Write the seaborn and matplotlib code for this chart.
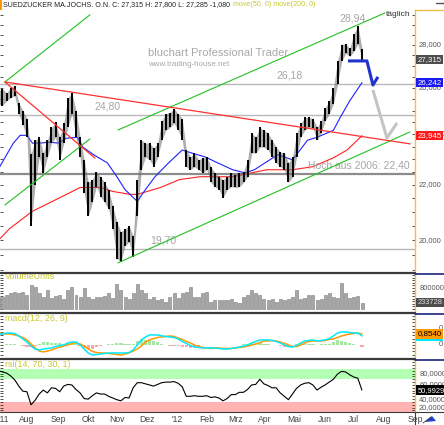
import numpy as np
import pandas as pd
import matplotlib
matplotlib.use("Agg")
import matplotlib.pyplot as plt
import matplotlib.transforms as mtransforms
from matplotlib.lines import Line2D
from matplotlib.patches import Rectangle, Polygon
from matplotlib.ticker import FixedLocator, NullLocator
import seaborn as sns

# ---- data -------------------------------------------------------------
start_day = "2011-07-01"
bar_day = np.arange(0, 268, 3)   # business-day index of each sampled bar

bar_high = [25.87, 25.96, 25.78, 26.00, 26.10, 25.34, 25.00, 24.66, 23.20, 23.76,
            23.88, 23.24, 23.76, 24.29, 24.50, 23.88, 24.46, 25.56, 25.78, 25.00,
            23.88, 22.97, 22.09, 22.20, 22.50, 22.31, 22.09, 21.82, 21.20, 20.64,
            20.29, 20.39, 20.50, 20.14, 22.20, 23.76, 23.64, 23.64, 23.44, 23.64,
            24.58, 24.87, 24.92, 25.09, 24.87, 24.66, 23.36, 23.08, 23.24, 22.97,
            23.05, 23.08, 22.70, 22.46, 22.31, 22.20, 22.31, 22.46, 22.39, 22.46,
            22.50, 22.97, 24.05, 23.88, 24.29, 24.17, 24.05, 23.76, 23.48, 23.28,
            23.24, 22.85, 23.08, 24.05, 24.46, 24.71, 24.71, 24.66, 24.29, 24.58,
            25.13, 25.43, 26.00, 27.22, 28.02, 28.06, 27.83, 28.55, 28.94, 27.80]
bar_low = [25.30, 25.22, 25.43, 25.56, 25.65, 24.87, 24.38, 23.88, 20.50, 22.01,
           23.08, 22.46, 23.08, 23.64, 23.88, 22.97, 23.64, 24.29, 24.87, 23.88,
           23.08, 21.71, 20.84, 21.34, 21.93, 21.56, 21.34, 21.09, 20.39, 19.37,
           19.27, 19.81, 19.94, 19.44, 20.84, 22.58, 23.08, 22.97, 22.70, 23.08,
           23.76, 24.17, 24.29, 24.46, 24.17, 23.76, 22.70, 22.58, 22.70, 22.58,
           22.46, 22.58, 22.09, 21.93, 21.82, 21.52, 21.82, 21.93, 21.90, 21.93,
           22.09, 22.31, 23.24, 23.24, 23.48, 23.48, 23.36, 23.08, 22.85, 22.70,
           22.58, 22.09, 22.31, 23.08, 23.88, 24.17, 24.29, 24.25, 23.76, 24.05,
           24.58, 24.87, 25.30, 26.17, 27.22, 27.60, 27.45, 27.69, 28.06, 27.285]

ma50_day = [1, 11, 16, 21, 25, 30, 38, 44, 50, 58, 62, 70, 80, 87, 93, 102, 108, 115,
            125, 135, 142, 152, 161, 172, 181, 188, 205, 216, 227, 234, 246, 251, 258, 267]
ma50_val = [22.70, 23.64, 23.96, 23.96, 23.64, 23.64, 23.68, 23.64, 23.84, 23.88, 23.48,
            23.17, 22.85, 22.31, 21.82, 21.38, 21.82, 22.31, 22.85, 23.36, 23.24, 23.08,
            22.85, 22.58, 22.46, 22.58, 23.17, 22.97, 23.76, 23.88, 24.17, 24.71, 25.43, 26.242]

ma200_day = [1, 8, 25, 38, 50, 60, 75, 84, 97, 102, 119, 133, 148, 172, 197, 216, 231, 246, 256, 267]
ma200_val = [20.04, 20.39, 21.02, 21.34, 21.64, 21.90, 21.90, 21.75, 21.64, 21.64, 21.90,
             22.20, 22.31, 22.31, 22.58, 22.58, 22.70, 23.05, 23.36, 23.945]

volume = [470e3, 470e3, 530e3, 600e3, 660e3, 600e3, 660e3, 550e3, 900e3, 850e3,
          600e3, 470e3, 720e3, 420e3, 500e3, 530e3, 400e3, 720e3, 850e3, 530e3,
          450e3, 800e3, 470e3, 400e3, 440e3, 470e3, 500e3, 600e3, 420e3, 950e3,
          720e3, 450e3, 400e3, 600e3, 950e3, 720e3, 600e3, 400e3, 470e3, 330e3,
          400e3, 250e3, 470e3, 600e3, 420e3, 600e3, 660e3, 850e3, 470e3, 470e3,
          600e3, 660e3, 250e3, 350e3, 340e3, 330e3, 340e3, 400e3, 280e3, 220e3,
          470e3, 530e3, 720e3, 600e3, 530e3, 400e3, 340e3, 400e3, 280e3, 400e3,
          340e3, 400e3, 470e3, 720e3, 400e3, 420e3, 530e3, 550e3, 340e3, 400e3,
          550e3, 600e3, 470e3, 420e3, 980e3, 600e3, 420e3, 470e3, 500e3, 233728]

macd = [0.85, 0.85, 0.93, 0.93, 0.89, 0.70, 0.47, 0.23, -0.08, -0.31,
        -0.39, -0.31, -0.27, -0.23, -0.12, -0.04, 0.00, 0.16, 0.23, 0.23,
        0.00, -0.31, -0.62, -0.78, -0.74, -0.70, -0.66, -0.62, -0.62, -0.62,
        -0.62, -0.62, -0.58, -0.39, 0.00, 0.39, 0.62, 0.78, 0.78, 0.78,
        0.70, 0.66, 0.62, 0.58, 0.47, 0.27, 0.12, -0.04, -0.16, -0.19,
        -0.23, -0.23, -0.23, -0.23, -0.27, -0.31, -0.31, -0.27, -0.23, -0.16,
        -0.08, 0.00, 0.16, 0.27, 0.39, 0.39, 0.39, 0.35, 0.27, 0.16,
        0.00, -0.12, -0.16, -0.04, 0.16, 0.31, 0.35, 0.39, 0.31, 0.35,
        0.39, 0.50, 0.70, 0.93, 1.01, 1.01, 0.97, 0.93, 0.93, 0.70]
signal = [0.93, 0.89, 0.85, 0.85, 0.78, 0.70, 0.58, 0.39, 0.08, -0.23,
          -0.47, -0.54, -0.47, -0.39, -0.27, -0.16, -0.08, 0.00, 0.12, 0.16,
          0.08, -0.08, -0.31, -0.50, -0.58, -0.62, -0.62, -0.66, -0.70, -0.74,
          -0.78, -0.70, -0.62, -0.47, -0.31, -0.08, 0.23, 0.39, 0.50, 0.58,
          0.62, 0.66, 0.70, 0.66, 0.54, 0.43, 0.27, 0.16, 0.00, -0.12,
          -0.19, -0.23, -0.23, -0.23, -0.23, -0.27, -0.27, -0.27, -0.23, -0.19,
          -0.16, -0.08, 0.00, 0.08, 0.19, 0.31, 0.31, 0.35, 0.31, 0.23,
          0.12, 0.00, -0.12, -0.12, 0.00, 0.16, 0.27, 0.31, 0.31, 0.31,
          0.35, 0.43, 0.47, 0.58, 0.70, 0.78, 0.85, 0.89, 0.93, 0.854]

rsi = [85, 83, 81, 76, 69, 58, 49, 48, 25, 33,
       44, 51, 46, 55, 54, 48, 58, 61, 60, 52,
       46, 36, 35, 41, 46, 44, 44, 40, 37, 34,
       32, 38, 37, 55, 64, 64, 62, 60, 58, 61,
       64, 65, 65, 66, 63, 57, 40, 40, 41, 40,
       40, 41, 38, 39, 37, 32, 36, 43, 43, 47,
       47, 52, 60, 61, 70, 62, 59, 55, 55, 46,
       40, 34, 44, 54, 60, 63, 64, 60, 51, 56,
       60, 65, 70, 79, 84, 83, 78, 74, 72, 50.99]

levels = [26.18, 24.80, 22.40, 19.70]
level_labels = ["26,18", "24,80", "Hoch aus 2006: 22,40", "19,70"]

green_lines = [([4.8, 67.2], [26.27, 29.49]),
               ([4.8, 67.2], [21.25, 23.81]),
               ([87.8, 283.8], [24.18, 29.59]),
               ([87.8, 302.2], [19.23, 24.10])]
red_lines = [([4.8, 302.2], [26.27, 23.61]),
             ([4.8, 70.9], [26.27, 23.04])]
blue_path_day = [256.7, 270.6, 275.0, 278.7]
blue_path_val = [27.24, 27.24, 26.13, 26.50]
gray_path_day = [275.0, 285.3, 292.7]
gray_path_val = [25.91, 23.85, 24.48]

month_starts = ["2011-07-01", "2011-08-01", "2011-09-01", "2011-10-01", "2011-11-01",
                "2011-12-01", "2012-01-01", "2012-02-01", "2012-03-01", "2012-04-01",
                "2012-05-01", "2012-06-01", "2012-07-01", "2012-08-01", "2012-09-01"]
month_labels = ["'11", "Aug", "Sep", "Okt", "Nov", "Dez", "'12", "Feb", "Mrz",
                "Apr", "Mai", "Jun", "Jul", "Aug", "Sep"]

# ---- style ------------------------------------------------------------
sns.set_style("white")
plt.rcParams["font.family"] = ["Liberation Sans", "DejaVu Sans"]

W, H = 444, 425
fig = plt.figure(figsize=(W / 100, H / 100), dpi=100)
fig.patch.set_facecolor("white")

def fx(px):
    return px / W

def fy(px):
    return 1 - px / H

AXR = 415
def panel(top, bottom):
    return fig.add_axes([0, fy(bottom), fx(AXR), (bottom - top) / H])

ax = panel(10, 272)
ax_vol = panel(273, 312)
ax_macd = panel(313, 358)
ax_rsi = panel(359, 412)

cal = pd.bdate_range(start_day, "2012-10-31")
month_pos = [float(cal.searchsorted(pd.Timestamp(m))) for m in month_starts]
month_pos[0] = 4.0
XMIN, XMAX = 1.2, 305.9

AXIS_YEL = "#f0c040"
LAB_YEL = "#c8c828"
RFS = 5.4
for a in (ax, ax_vol, ax_macd, ax_rsi):
    a.set_xlim(XMIN, XMAX)
    for s in ("top", "bottom", "left"):
        a.spines[s].set_visible(False)
    a.spines["right"].set_color(AXIS_YEL)
    a.spines["right"].set_linewidth(1.0)
    a.set_facecolor("white")
    a.tick_params(axis="y", which="both", left=True, right=True, direction="in",
                  length=2, width=0.6, labelleft=False, labelright=False, color="#333333")
    a.set_xticks([])

def ylab(a):
    return mtransforms.blended_transform_factory(a.transAxes, a.transData)

# ---- main price panel -------------------------------------------------
ax.set_yscale("log")
ax.set_ylim(18.93, 29.74)
ax.yaxis.set_major_locator(FixedLocator(np.arange(19.0, 30.0, 0.5)))
ax.yaxis.set_minor_locator(NullLocator())
ax.yaxis.set_major_formatter(plt.NullFormatter())

for lv in levels:
    if lv == 22.40:
        ax.axhline(lv, color="#8c8c8c", lw=1.6, zorder=1)
    else:
        ax.axhline(lv, color="#b8b8b8", lw=1.0, zorder=1)

sns.lineplot(x=ma200_day, y=ma200_val, ax=ax, color="#ff2020", lw=0.8, zorder=2)
sns.lineplot(x=ma50_day, y=ma50_val, ax=ax, color="#2020ff", lw=0.8, zorder=2)

ax.fill_between(bar_day, bar_low, bar_high, color="#6a6a6a", alpha=0.55, lw=0, zorder=3)
ax.vlines(bar_day, bar_low, bar_high, color="black", lw=1.4, zorder=3)

for xs, ys in green_lines:
    ax.plot(xs, ys, color="#22c022", lw=0.8, zorder=4)
for xs, ys in red_lines:
    ax.plot(xs, ys, color="#ff3030", lw=0.9, zorder=4)
ax.plot(gray_path_day, gray_path_val, color="#c4c4c4", lw=2.2, zorder=5,
        solid_capstyle="butt")
ax.plot(blue_path_day, blue_path_val, color="#2233cc", lw=2.2, zorder=5,
        solid_capstyle="butt")

lab_col = "#a6a6a6"
ax.text(214, 26.18 * 1.006, level_labels[0], color=lab_col, fontsize=7.5, ha="center", va="bottom")
ax.text(80, 24.80 * 1.006, level_labels[1], color=lab_col, fontsize=7.5, ha="center", va="bottom")
ax.text(302, 22.40 * 1.006, level_labels[2], color=lab_col, fontsize=7.5, ha="right", va="bottom")
ax.text(121, 19.70 * 1.006, level_labels[3], color=lab_col, fontsize=7.5, ha="center", va="bottom")
ax.text(260, 28.94 * 1.004, "28,94", color=lab_col, fontsize=7.5, ha="center", va="bottom")
ax.text(302.5, 29.5, "täglich", color="#333333", fontsize=6, ha="right", va="center")

tr = ylab(ax)
for v, s in [(28.0, "28,000"), (26.0, "26,000"), (22.0, "22,000"), (20.0, "20,000")]:
    ax.text(1.01, v, s, transform=tr, fontsize=RFS, color="#555555", va="center", ha="left", clip_on=False)
ax.text(1.062, 24.0, "0", transform=tr, fontsize=RFS, color="#555555", va="center", ha="left", clip_on=False)
for v, s, bg in [(27.315, "27,315", "#4d4d4d"), (26.242, "26,242", "#1a1aee"), (23.945, "23,945", "#ff1a1a")]:
    ax.text(1.006, v, s, transform=tr, fontsize=RFS + 0.3, color="white", va="center", ha="left",
            clip_on=False, zorder=6, bbox=dict(boxstyle="square,pad=0.15", fc=bg, ec="none"))

# ---- volume panel -----------------------------------------------------
ax_vol.set_ylim(-114000, 1372000)
ax_vol.bar(bar_day, volume, width=2.2, color="#a6a6a6", edgecolor="#7c7c7c", lw=0.4)
ax_vol.yaxis.set_major_locator(FixedLocator(np.arange(0, 1300001, 100000)))
ax_vol.text(0.012, 0.9, "VolumeUnits", transform=ax_vol.transAxes, fontsize=6.4,
            color=LAB_YEL, va="center", zorder=10)
tr = ylab(ax_vol)
ax_vol.text(1.01, 800000, "800000", transform=tr, fontsize=RFS, color="#555555", va="center", clip_on=False)
ax_vol.text(1.006, 233728, "233728", transform=tr, fontsize=RFS, color="#dddddd", va="center",
            clip_on=False, bbox=dict(boxstyle="square,pad=0.15", fc="#4d4d4d", ec="none"))

# ---- macd panel -------------------------------------------------------
ax_macd.set_ylim(-1.01, 2.48)
ax_macd.yaxis.set_major_locator(FixedLocator(np.arange(-1.0, 2.5, 0.25)))
hist = np.array(macd) - np.array(signal)
hcol = np.where(hist >= 0, "#8fe08f", "#ff8f8f")
ax_macd.bar(bar_day, hist, width=2.4, color=hcol, alpha=0.8, lw=0)
sns.lineplot(x=bar_day, y=signal, ax=ax_macd, color="#ff9a00", lw=1.1)
sns.lineplot(x=bar_day, y=macd, ax=ax_macd, color="#00e8ff", lw=1.1)
ax_macd.set_xlim(XMIN, XMAX)
ax_macd.text(0.012, 0.87, "macd(12, 26, 9)", transform=ax_macd.transAxes, fontsize=6.4,
             color=LAB_YEL, va="center", zorder=10)
tr = ylab(ax_macd)
ax_macd.text(1.058, 1.3, "0", transform=tr, fontsize=RFS, color="#555555", va="center", clip_on=False)
ax_macd.text(1.058, 0.0, "0", transform=tr, fontsize=RFS, color="#555555", va="center", clip_on=False)
ax_macd.text(1.006, 0.854, "0,8540", transform=tr, fontsize=RFS + 0.3, color="black", va="center",
             clip_on=False, bbox=dict(boxstyle="square,pad=0.15", fc="#ff9a00", ec="none"))
fig.add_artist(Rectangle((fx(416), fy(341)), fx(27), 2 / H, color="#00e8ff", lw=0))

# ---- rsi panel --------------------------------------------------------
ax_rsi.yaxis.set_major_locator(FixedLocator(np.arange(15, 105, 5)))
ax_rsi.axhspan(71, 88, color="#b3ffb3", lw=0, zorder=0)
ax_rsi.axhspan(0, 30, color="#ffb3b3", lw=0, zorder=0)
sns.lineplot(x=bar_day, y=rsi, ax=ax_rsi, color="black", lw=0.8)
ax_rsi.set_xlim(XMIN, XMAX)
ax_rsi.set_ylim(12.3, 105.8)
ax_rsi.text(0.012, 0.89, "rsi(14, 70, 30, 1)", transform=ax_rsi.transAxes, fontsize=6.4,
            color=LAB_YEL, va="center", zorder=10)
tr = ylab(ax_rsi)
for v, s in [(80, "80,0000"), (60, "60,0000"), (20, "20,0000")]:
    ax_rsi.text(1.01, v, s, transform=tr, fontsize=RFS, color="#555555", va="center", clip_on=False)
ax_rsi.text(1.006, 50.99, "50,9929", transform=tr, fontsize=RFS, color="white", va="center",
            clip_on=False, bbox=dict(boxstyle="square,pad=0.15", fc="black", ec="none"))
ax_rsi.text(1.01, 40, "40,0000", transform=tr, fontsize=RFS, color="#555555", va="top",
            clip_on=False, zorder=0)
ax_rsi.set_xticks(month_pos)
ax_rsi.set_xticklabels(month_labels)
ax_rsi.tick_params(axis="x", length=0, pad=2.5, labelsize=6.2, colors="#444444")

# ---- frame lines and header ------------------------------------------
def hline(y, x0, x1, color, lw):
    fig.add_artist(Line2D([fx(x0), fx(x1)], [fy(y), fy(y)], color=color, lw=lw))

for y in (272.5, 312.5, 358.5):
    hline(y, 0, AXR, "#3a3a3a", 1.6)
    hline(y + 1.5, AXR, W, "#1a237e", 1.2)
hline(412, 0, W, "#3a3a3a", 0.8)
hline(10, AXR, W, AXIS_YEL, 1.0)
fig.add_artist(Line2D([fx(AXR), fx(AXR)], [fy(412), fy(425)], color="#3a3a3a", lw=0.8))
fig.add_artist(Polygon([(fx(425), fy(422)), (fx(432), fy(416)), (fx(436), fy(421))],
                       closed=True, color="#1f3fd0", lw=0))
fig.add_artist(Line2D([fx(423), fx(431)], [fy(423), fy(417)], color="#333333", lw=0.6))
fig.add_artist(Rectangle((0, fy(10)), fx(2), 10 / H, color="#ff9900", lw=0))
hline(3, 436, W, "#555555", 1.0)

title = fig.text(fx(3), fy(5), "SUEDZUCKER MA.JOCHS. O.N. C: 27,315 H: 27,800 L: 27,285 -1,080",
                 fontsize=5.1, color="#222222", va="center", ha="left")
fig.canvas.draw()
tx1 = title.get_window_extent().x1
fig.text(fx(tx1 + 3), fy(5), "move(50, 0) move(200, 0)", fontsize=5.1, color=LAB_YEL,
         va="center", ha="left")
fig.text(fx(148), fy(53), "bluchart Professional Trader", fontsize=8.0, color="#a8a8a8",
         va="center", ha="left")
fig.text(fx(148), fy(65), "www.trading-house.net", fontsize=5.8, color="#a8a8a8",
         va="center", ha="left")

fig.savefig("out.png", dpi=100)
